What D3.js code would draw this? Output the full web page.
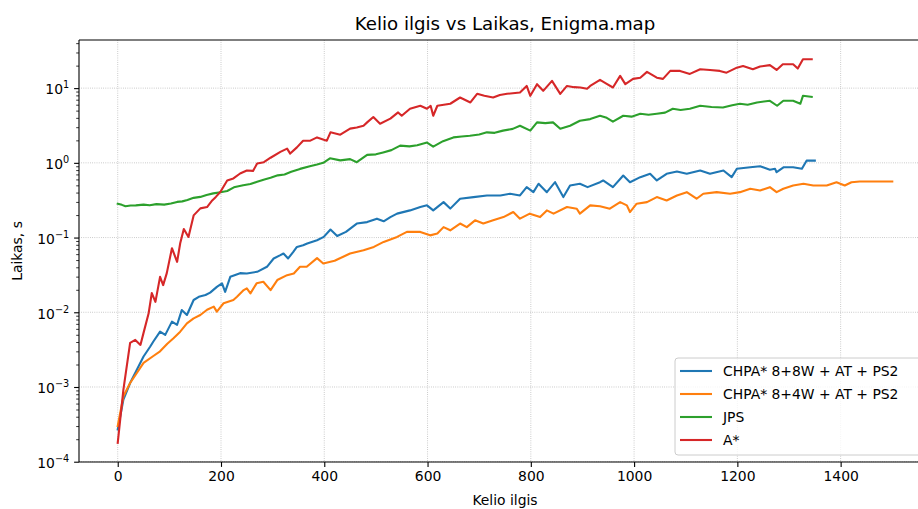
<!DOCTYPE html>
<html>
<head>
<meta charset="utf-8">
<script src="https://cdn.jsdelivr.net/npm/d3@7/dist/d3.min.js"></script>
<style>
  html, body { margin: 0; padding: 0; background: #fff; }
  svg { display: block; font-family: "DejaVu Sans", sans-serif; }
</style>
</head>
<body>
<svg id="chart" width="918" height="509"></svg>
<script>
// Path length (x) and search time in seconds (y) for each algorithm on Enigma.map
const chpa88X = [0,11,24,37,50,63,69,82,92,105,115,124,134,147,157,170,179,192,202,208,218,237,250,270,289,302,315,321,330,340,347,359,367,386,399,412,425,442,463,483,502,515,528,541,566,586,599,611,631,644,663,689,715,741,760,779,792,805,815,831,847,863,876,895,910,934,940,959,979,992,1012,1031,1044,1063,1083,1102,1128,1147,1173,1189,1199,1225,1244,1263,1273,1276,1290,1308,1325,1334,1350];
const chpa88Y = [0.00027,0.00068,0.00113,0.0017,0.00256,0.00348,0.00406,0.00551,0.00498,0.0075,0.0068,0.0107,0.0092,0.0146,0.0161,0.017,0.0183,0.0219,0.0244,0.0188,0.0298,0.0334,0.0331,0.0348,0.0406,0.0525,0.0581,0.0612,0.0525,0.0643,0.0749,0.0789,0.0832,0.092,0.102,0.128,0.105,0.119,0.154,0.161,0.179,0.165,0.188,0.209,0.231,0.256,0.27,0.231,0.298,0.244,0.331,0.348,0.366,0.366,0.386,0.366,0.473,0.405,0.525,0.405,0.551,0.348,0.498,0.525,0.473,0.551,0.581,0.473,0.677,0.551,0.643,0.714,0.581,0.714,0.766,0.714,0.789,0.714,0.789,0.643,0.832,0.874,0.9,0.81,0.832,0.749,0.874,0.874,0.832,1.07,1.07];

const chpa84X = [0,11,24,37,50,69,82,96,108,121,134,147,160,173,186,192,205,224,231,244,250,257,269,282,296,309,328,341,353,366,386,398,420,450,476,496,515,541,560,586,605,619,631,644,663,676,692,708,727,747,766,779,798,818,831,844,870,889,895,915,934,953,973,986,992,1005,1025,1044,1063,1083,1102,1121,1134,1160,1186,1205,1225,1244,1263,1276,1289,1308,1328,1347,1373,1392,1408,1421,1437,1500];
const chpa84Y = [0.0003,0.00075,0.00113,0.00154,0.0021,0.0026,0.003,0.0038,0.0045,0.0055,0.0071,0.0083,0.0092,0.0108,0.0119,0.0102,0.0132,0.0146,0.0161,0.0198,0.0209,0.0179,0.0244,0.0256,0.0198,0.027,0.0314,0.0331,0.0406,0.0406,0.053,0.045,0.049,0.0612,0.0677,0.0749,0.0874,0.102,0.119,0.119,0.107,0.113,0.138,0.125,0.154,0.138,0.17,0.154,0.17,0.188,0.2195,0.179,0.209,0.188,0.231,0.209,0.256,0.2435,0.209,0.27,0.263,0.2435,0.298,0.27,0.2195,0.284,0.298,0.348,0.314,0.366,0.4055,0.331,0.386,0.4055,0.386,0.4055,0.45,0.427,0.473,0.4055,0.45,0.498,0.525,0.498,0.498,0.551,0.498,0.551,0.563,0.563];

const jpsX = [0,8,15,25,35,50,62,75,90,103,115,125,135,147,160,172,185,199,212,225,243,257,270,284,296,310,323,336,353,372,386,398,411,431,450,463,483,500,514,530,547,565,580,599,611,630,650,666,682,700,715,730,746,765,779,799,812,828,843,857,876,895,915,934,947,959,979,995,1012,1028,1044,1060,1075,1090,1108,1128,1150,1172,1190,1205,1220,1238,1263,1277,1289,1308,1322,1327,1344];
const jpsY = [0.284,0.274,0.262,0.268,0.27,0.276,0.27,0.28,0.276,0.285,0.3,0.305,0.318,0.34,0.35,0.372,0.39,0.405,0.42,0.47,0.5,0.52,0.56,0.6,0.63,0.68,0.7,0.76,0.83,0.9,0.95,1.0,1.15,1.08,1.12,1.02,1.28,1.3,1.38,1.48,1.7,1.66,1.72,1.87,1.65,1.95,2.19,2.25,2.31,2.4,2.56,2.52,2.7,2.85,3.14,2.7,3.48,3.4,3.48,2.86,3.14,3.66,3.85,4.27,4.0,3.56,4.27,4.15,4.54,4.4,4.54,4.7,5.3,5.1,5.3,5.81,5.6,5.51,5.9,6.18,6.0,6.43,6.77,5.81,6.77,6.77,6.18,7.89,7.65];

const astarX = [0,11,24,34,44,50,60,66,73,82,88,95,105,115,121,128,137,147,160,173,183,190,199,212,224,237,250,262,270,283,296,315,328,334,347,359,373,386,405,412,431,450,463,476,483,495,508,528,543,550,566,586,599,606,611,619,644,663,683,696,710,727,740,754,779,792,799,812,824,841,857,870,884,896,909,915,934,947,959,973,983,998,1012,1025,1044,1056,1070,1089,1108,1128,1147,1166,1179,1199,1211,1230,1244,1263,1276,1288,1308,1317,1327,1344];
const astarY = [0.000179,0.00092,0.0039,0.00427,0.00366,0.0053,0.0098,0.0181,0.0138,0.0298,0.0231,0.0334,0.072,0.0473,0.0839,0.13,0.102,0.198,0.246,0.256,0.314,0.35,0.41,0.581,0.618,0.72,0.789,0.78,0.979,1.02,1.17,1.4,1.55,1.33,1.61,1.98,1.98,2.19,1.98,2.56,2.38,2.87,2.98,3.14,3.48,4.1,3.34,3.9,4.73,4.27,5.3,5.81,5.3,5.8,4.27,5.81,6.18,7.49,6.43,8.39,7.9,7.49,8.1,8.39,8.74,10.7,7.89,11.3,9.2,12.5,8.39,10.7,10.3,10.2,9.79,10.7,12.9,11.4,10.2,14.6,11.3,13.3,13.8,16.5,13.8,13.3,17.0,17.0,15.5,17.9,17.5,17.0,16.1,18.8,19.8,17.9,19.5,20.3,17.5,20.9,20.9,18.3,24.4,24.4];

const seriesNames = ["CHPA* 8+8W + AT + PS2", "CHPA* 8+4W + AT + PS2", "JPS", "A*"];
const seriesColors = ["#1f77b4", "#ff7f0e", "#2ca02c", "#d62728"];
const xTicks = [0, 200, 400, 600, 800, 1000, 1200, 1400];
const yTickExponents = [-4, -3, -2, -1, 0, 1];
const titleText = "Kelio ilgis vs Laikas, Enigma.map";
const xLabelText = "Kelio ilgis";
const yLabelText = "Laikas, s";

const series = [
  { name: seriesNames[0], color: seriesColors[0], x: chpa88X, y: chpa88Y },
  { name: seriesNames[1], color: seriesColors[1], x: chpa84X, y: chpa84Y },
  { name: seriesNames[2], color: seriesColors[2], x: jpsX, y: jpsY },
  { name: seriesNames[3], color: seriesColors[3], x: astarX, y: astarY }
];

const svg = d3.select("#chart");
const plot = { left: 79, top: 40, right: 931, bottom: 462 };

// Axis limits with 5% padding (linear on x, in log space on y)
const allX = series.flatMap(s => s.x);
const allY = series.flatMap(s => s.y);
const [xMin, xMax] = d3.extent(allX);
const xPad = (xMax - xMin) * 0.05;
const [lyMin, lyMax] = d3.extent(allY).map(Math.log10);
const lyPad = (lyMax - lyMin) * 0.05;

const x = d3.scaleLinear().domain([xMin - xPad, xMax + xPad]).range([plot.left, plot.right]);
const y = d3.scaleLog().domain([Math.pow(10, lyMin - lyPad), Math.pow(10, lyMax + lyPad)]).range([plot.bottom, plot.top]);

const yMajor = yTickExponents.map(e => Math.pow(10, e));
const yMinor = [];
yTickExponents.forEach(e => {
  for (let m = 2; m <= 9; m++) {
    const v = m * Math.pow(10, e);
    if (v >= y.domain()[0] && v <= y.domain()[1]) yMinor.push(v);
  }
});

// Grid
const grid = svg.append("g").attr("class", "grid");
grid.selectAll("line.gx").data(xTicks).enter().append("line")
  .attr("x1", d => x(d)).attr("x2", d => x(d))
  .attr("y1", plot.top).attr("y2", plot.bottom)
  .attr("stroke", "#b0b0b0").attr("stroke-width", 0.8).attr("stroke-dasharray", "0.8,1.4");
grid.selectAll("line.gy").data(yMajor).enter().append("line")
  .attr("x1", plot.left).attr("x2", plot.right)
  .attr("y1", d => y(d)).attr("y2", d => y(d))
  .attr("stroke", "#b0b0b0").attr("stroke-width", 0.8).attr("stroke-dasharray", "0.8,1.4");

// Lines
const line = d3.line().x(d => x(d[0])).y(d => y(d[1]));
svg.append("clipPath").attr("id", "plotclip").append("rect")
  .attr("x", plot.left).attr("y", plot.top)
  .attr("width", plot.right - plot.left).attr("height", plot.bottom - plot.top);
svg.append("g").attr("clip-path", "url(#plotclip)")
  .selectAll("path").data(series).enter().append("path")
  .attr("d", s => line(s.x.map((xv, i) => [xv, s.y[i]])))
  .attr("fill", "none")
  .attr("stroke", s => s.color)
  .attr("stroke-width", 2.1)
  .attr("stroke-linejoin", "round")
  .attr("stroke-linecap", "square");

// Spines
const spine = (x1, y1, x2, y2) => svg.append("line")
  .attr("x1", x1).attr("y1", y1).attr("x2", x2).attr("y2", y2)
  .attr("stroke", "#000").attr("stroke-width", 1.1);
spine(plot.left, plot.top, plot.left, plot.bottom);
spine(plot.left, plot.bottom, plot.right, plot.bottom);
spine(plot.left, plot.top, plot.right, plot.top);
spine(plot.right, plot.top, plot.right, plot.bottom);

// X axis
const xAxis = d3.axisBottom(x).tickValues(xTicks).tickSize(4.9).tickPadding(4.5).tickFormat(d3.format("d"));
const gx = svg.append("g").attr("transform", `translate(0,${plot.bottom})`).call(xAxis);
gx.select(".domain").remove();
gx.selectAll(".tick line").attr("stroke", "#000").attr("stroke-width", 1.1);
gx.selectAll(".tick text").attr("font-size", "13.9px").attr("fill", "#000")
  .attr("font-family", "DejaVu Sans, sans-serif");

// Y axis: minor ticks, then major ticks with power-of-ten labels
const gyMinor = svg.append("g").attr("transform", `translate(${plot.left},0)`)
  .call(d3.axisLeft(y).tickValues(yMinor).tickSize(2.8).tickFormat(""));
gyMinor.select(".domain").remove();
gyMinor.selectAll(".tick line").attr("stroke", "#000").attr("stroke-width", 0.8);

const gy = svg.append("g").attr("transform", `translate(${plot.left},0)`)
  .call(d3.axisLeft(y).tickValues(yMajor).tickSize(4.9).tickPadding(4.9).tickFormat(""));
gy.select(".domain").remove();
gy.selectAll(".tick line").attr("stroke", "#000").attr("stroke-width", 1.1);
gy.selectAll(".tick text").each(function(d) {
  const e = Math.round(Math.log10(d));
  const t = d3.select(this)
    .attr("font-size", "13.9px").attr("fill", "#000")
    .attr("font-family", "DejaVu Sans, sans-serif")
    .attr("dy", "0.42em");
  t.append("tspan").text("10");
  t.append("tspan").attr("font-size", "9.7px").attr("dy", "-0.62em")
    .text(e < 0 ? "\u2212" + Math.abs(e) : String(e));
});

// Titles
svg.append("text").attr("x", (plot.left + plot.right) / 2).attr("y", 30)
  .attr("text-anchor", "middle").attr("font-size", "18.2px").attr("fill", "#000")
  .text(titleText);
svg.append("text").attr("x", (plot.left + plot.right) / 2).attr("y", 505)
  .attr("text-anchor", "middle").attr("font-size", "13.9px").attr("fill", "#000")
  .text(xLabelText);
svg.append("text")
  .attr("transform", `translate(22,${(plot.top + plot.bottom) / 2}) rotate(-90)`)
  .attr("text-anchor", "middle").attr("font-size", "13.9px").attr("fill", "#000")
  .text(yLabelText);

// Legend
const legend = svg.append("g").attr("transform", "translate(675,358)");
legend.append("rect").attr("x", 0).attr("y", 0).attr("width", 249).attr("height", 97)
  .attr("rx", 3).attr("ry", 3)
  .attr("fill", "#fff").attr("fill-opacity", 0.8)
  .attr("stroke", "#cccccc").attr("stroke-width", 1);
const rows = legend.selectAll("g.row").data(series).enter().append("g")
  .attr("transform", (d, i) => `translate(0,${13 + i * 23})`);
rows.append("line").attr("x1", 5).attr("x2", 37).attr("y1", 0).attr("y2", 0)
  .attr("stroke", d => d.color).attr("stroke-width", 2.1);
rows.append("text").attr("x", 48).attr("y", 0).attr("dy", "0.35em")
  .attr("font-size", "13.9px").attr("fill", "#000")
  .text(d => d.name);
</script>
</body>
</html>
